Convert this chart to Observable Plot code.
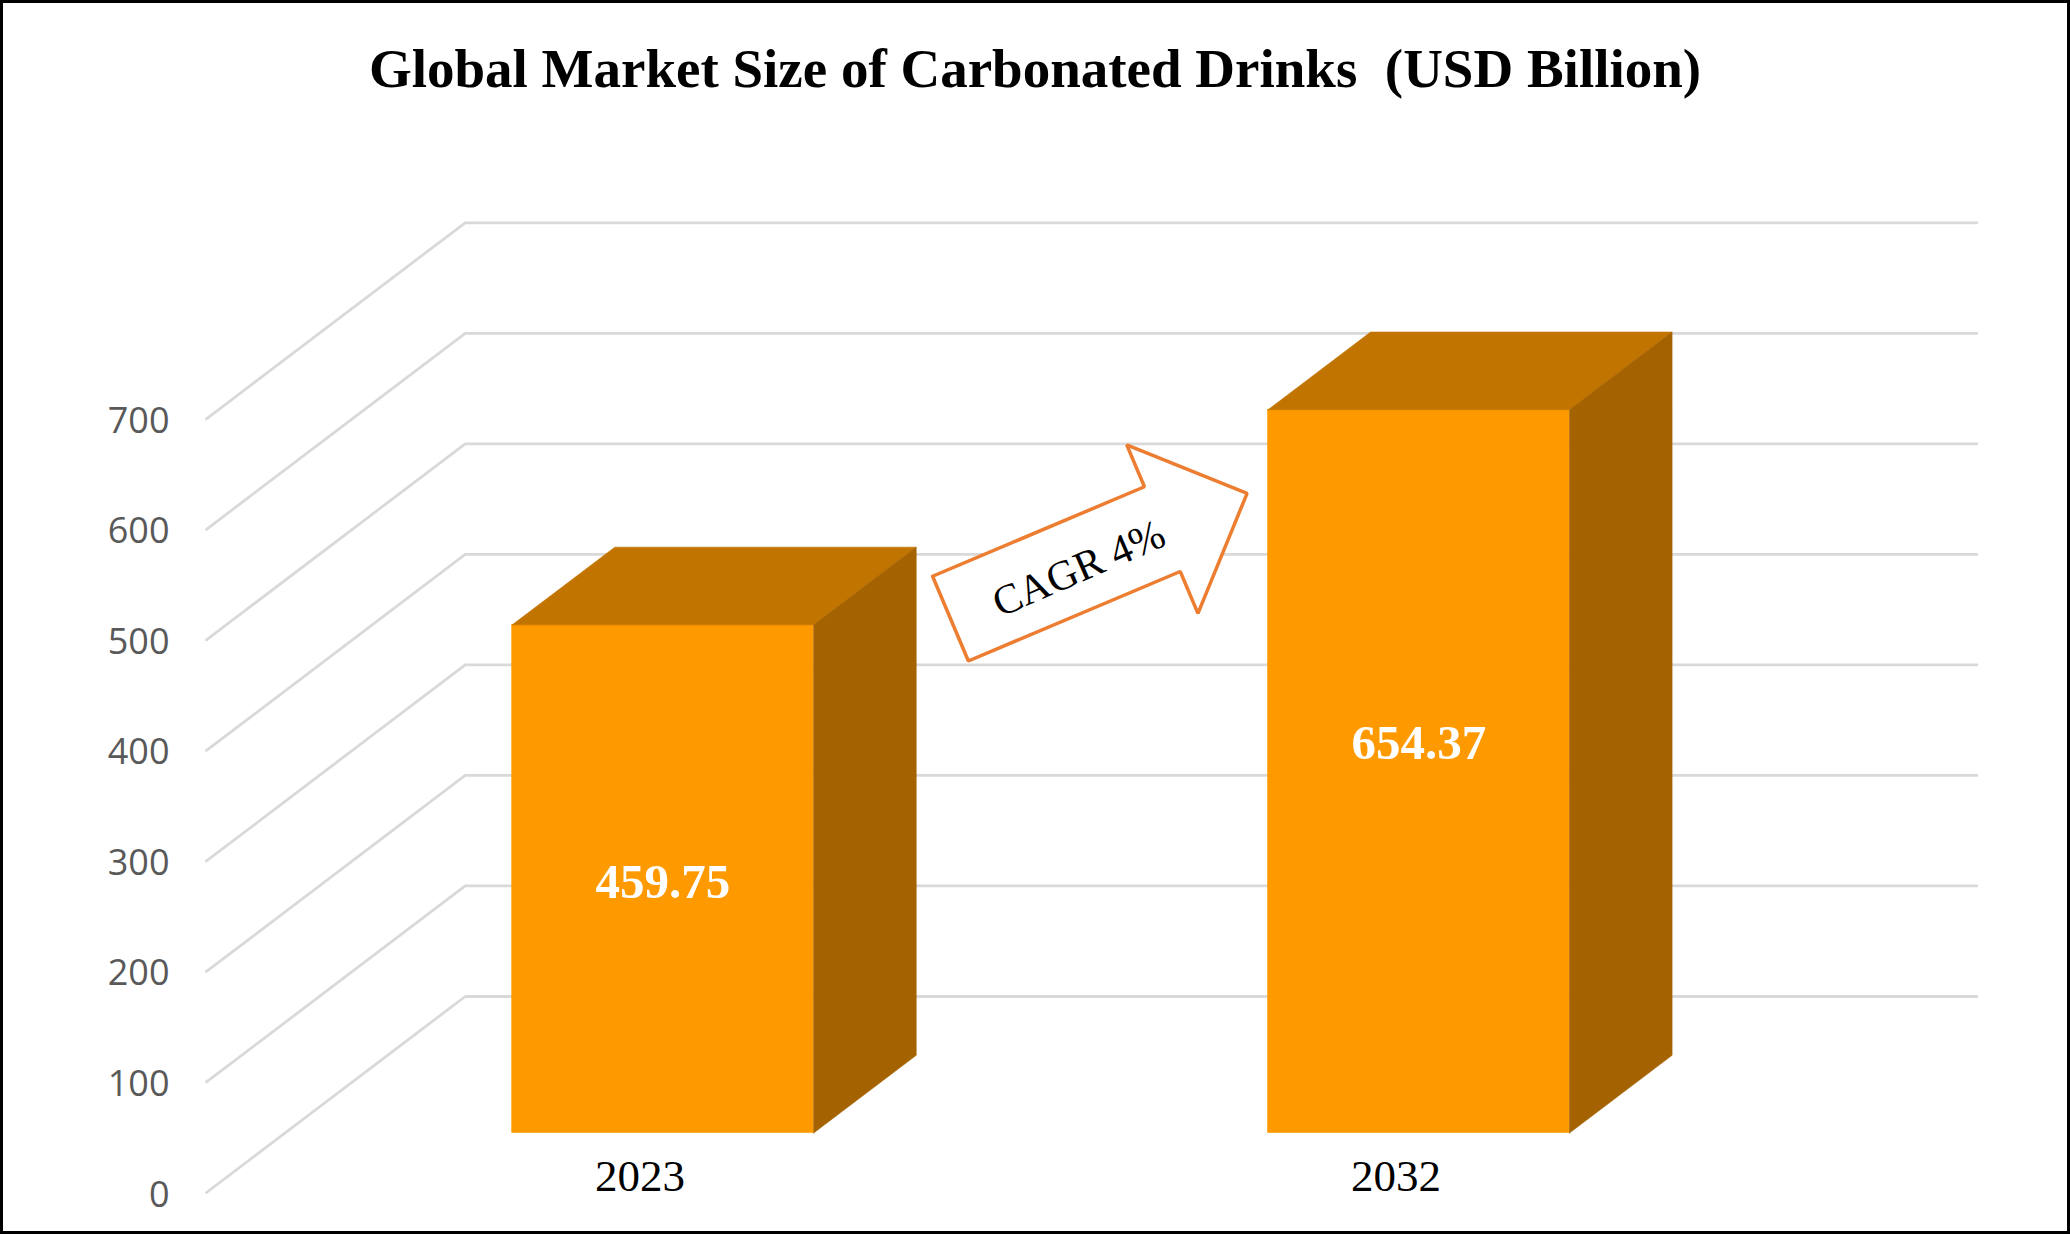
<!DOCTYPE html>
<html>
<head>
<meta charset="utf-8">
<script src="https://cdn.jsdelivr.net/npm/d3@7"></script>
<script src="https://cdn.jsdelivr.net/npm/@observablehq/plot@0.6"></script>
<style>
  html, body { margin: 0; padding: 0; background: #fff; }
  #wrap { position: relative; width: 2070px; height: 1234px; overflow: hidden; background: #fff; }
  #title { position: absolute; left: 0; top: 41px; width: 2070px; text-align: center;
           font-family: "Liberation Serif", "Times New Roman", serif; font-weight: bold;
           font-size: 55px; line-height: 55px; white-space: pre; color: #000; }
  #chart { position: absolute; left: 0; top: 130px; }
  #frame { position: absolute; left: 0; top: 0; width: 2070px; height: 1234px; box-sizing: border-box;
           border: 3px solid #000; pointer-events: none; }
</style>
</head>
<body>
<div id="wrap"><div id="title"></div><div id="chart"></div><div id="frame"></div></div>
<script>
// ---- data ----
const categories = ["2023", "2032"];
const values = [459.75, 654.37];
const yTicks = [0, 100, 200, 300, 400, 500, 600, 700];
const titleText = "Global Market Size of Carbonated Drinks  (USD Billion)";
const cagrText = "CAGR 4%";

document.getElementById("title").textContent = titleText;

// ---- layout ----
const W = 2070, H = 1104;
const X_DOMAIN = [-0.5, 1.5], X_RANGE = [206, 1717.7];
const Y_DOMAIN = [0, 700], Y_RANGE = [1062, 288.3];
const xs = d3.scaleLinear(X_DOMAIN, X_RANGE);
const ys = d3.scaleLinear(Y_DOMAIN, Y_RANGE);
const DEPTH_PX = [258.7, 196];                   // full depth shift (right, up)
const DXu = DEPTH_PX[0] / (xs(1) - xs(0));
const DYu = DEPTH_PX[1] / (ys(0) - ys(1));
const proj = (x, y, z) => ({x: x + z * DXu, y: y + z * DYu});
const ZF = 0.3035, ZB = 0.70, HW = 0.1994, ZL = 0.215;

const bars = categories.map((c, i) => ({cat: c, i, value: values[i]}));

// gridlines (front diagonal + back wall)
const grid = yTicks.flatMap(t =>
  [proj(X_DOMAIN[0], t, 0), proj(X_DOMAIN[0], t, 1), proj(X_DOMAIN[1], t, 1)].map(p => ({...p, t})));

const topFaces = bars.flatMap(d =>
  [proj(d.i - HW, d.value, ZF), proj(d.i + HW, d.value, ZF), proj(d.i + HW, d.value, ZB),
   proj(d.i - HW, d.value, ZB), proj(d.i - HW, d.value, ZF)].map(p => ({...p, k: d.cat})));
const sideFaces = bars.flatMap(d =>
  [proj(d.i + HW, 0, ZF), proj(d.i + HW, 0, ZB), proj(d.i + HW, d.value, ZB),
   proj(d.i + HW, d.value, ZF), proj(d.i + HW, 0, ZF)].map(p => ({...p, k: d.cat})));

// CAGR arrow: defined by centre (data units) + pixel geometry
const ARROW = {cx: 0.6805, cy: 575.9, angle: -22.9, length: 322, shaftHalf: 46, headHalf: 91.5, headLen: 92};
const th = ARROW.angle * Math.PI / 180, ca = Math.cos(th), sa = Math.sin(th);
const acx = xs(ARROW.cx), acy = ys(ARROW.cy);
const L2 = ARROW.length / 2, hb = L2 - ARROW.headLen;
const local = [[-L2, -ARROW.shaftHalf], [hb, -ARROW.shaftHalf], [hb, -ARROW.headHalf], [L2, 0],
               [hb, ARROW.headHalf], [hb, ARROW.shaftHalf], [-L2, ARROW.shaftHalf], [-L2, -ARROW.shaftHalf]];
const arrowPts = local.map(([u, v]) => ({
  x: xs.invert(acx + u * ca - v * sa),
  y: ys.invert(acy + u * sa + v * ca)
}));
const cagrPos = [{x: xs.invert(acx - 20), y: ys.invert(acy + 12.6), text: cagrText}];

const serif = "'Liberation Serif', 'Times New Roman', serif";

const chart = Plot.plot({
  width: W, height: H,
  margin: 0,
  x: {type: "linear", domain: X_DOMAIN, range: X_RANGE, axis: null},
  y: {type: "linear", domain: Y_DOMAIN, range: Y_RANGE, axis: null},
  style: {background: "transparent", overflow: "visible"},
  marks: [
    Plot.line(grid, {x: "x", y: "y", z: "t", stroke: "#d9d9d9", strokeWidth: 2.8}),
    Plot.text(yTicks, {x: X_DOMAIN[0], y: d => d, text: d => String(d), textAnchor: "end", dx: -37, dy: 2.5,
      fontFamily: "'Open Sans', sans-serif", fontSize: 36, fill: "#595959"}),
    Plot.rect(bars, {x1: d => d.i - HW + ZF * DXu, x2: d => d.i + HW + ZF * DXu,
      y1: ZF * DYu, y2: d => d.value + ZF * DYu, fill: "#FF9900", stroke: "#FF9900", strokeWidth: 0.6}),
    Plot.line(topFaces, {x: "x", y: "y", z: "k", fill: "#C27400", stroke: "#C27400", strokeWidth: 0.6}),
    Plot.line(sideFaces, {x: "x", y: "y", z: "k", fill: "#A46300", stroke: "#A46300", strokeWidth: 0.6}),
    Plot.text(bars, {x: d => d.i + ZF * DXu, y: d => d.value * [0.494, 0.539][d.i] + ZF * DYu,
      text: d => d.value.toFixed(2), fill: "#ffffff", fontWeight: "bold", fontFamily: serif, fontSize: 49}),
    Plot.text(bars, {x: d => d.i + ZL * DXu, y: ZL * DYu, dy: 26, text: "cat",
      fontFamily: serif, fontSize: 45, fill: "#000"}),
    Plot.line(arrowPts, {x: "x", y: "y", fill: "#ffffff", stroke: "#ED7D31", strokeWidth: 3.5, strokeLinejoin: "miter"}),
    Plot.text(cagrPos, {x: "x", y: "y", text: "text", rotate: -23.5, fontFamily: serif, fontSize: 42, fill: "#000"})
  ]
});
document.getElementById("chart").appendChild(chart);
</script>
</body>
</html>
